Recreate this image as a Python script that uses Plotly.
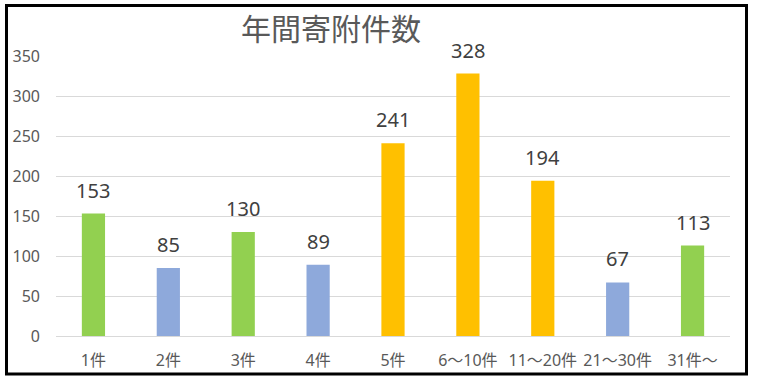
import plotly.graph_objects as go

categories = ["1件", "2件", "3件", "4件", "5件", "6～10件", "11～20件", "21～30件", "31件～"]
values = [153, 85, 130, 89, 241, 328, 194, 67, 113]
bar_colors = ["#92D050", "#8EA9DB", "#92D050", "#8EA9DB", "#FFC000", "#FFC000", "#FFC000", "#8EA9DB", "#92D050"]
y_ticks = [0, 50, 100, 150, 200, 250, 300, 350]
title_text = "年間寄附件数"

FONT = "Noto Sans, Noto Sans CJK JP"

W, H = 757, 380
ml, mt = 56, 56
pw, ph = 674, 280
mr = W - ml - pw
mb = H - mt - ph

fig = go.Figure(
    go.Bar(
        x=categories,
        y=values,
        marker=dict(color=bar_colors, line=dict(width=0)),
        width=0.31,
        hoverinfo="skip",
    )
)

for c, v in zip(categories, values):
    fig.add_annotation(
        x=c, y=v, text=str(v), showarrow=False,
        yanchor="bottom", yshift=8,
        font=dict(family=FONT, size=20, color="#404040"),
    )

def px(x):
    return (x - ml) / pw

def py(y):
    return (H - mb - y) / ph

fig.add_shape(
    type="rect", xref="paper", yref="paper",
    x0=px(6.5), x1=px(746.5), y0=py(374), y1=py(5.5),
    line=dict(color="#000000", width=3), fillcolor="rgba(0,0,0,0)",
    layer="above",
)

fig.add_annotation(
    xref="paper", yref="paper", x=px(331), y=py(29),
    text=title_text, showarrow=False, xanchor="center", yanchor="middle",
    font=dict(family=FONT, size=30, color="#595959"),
)

fig.update_layout(
    width=W, height=H,
    margin=dict(l=ml, r=mr, t=mt, b=mb, pad=0, autoexpand=False),
    paper_bgcolor="white", plot_bgcolor="white",
    showlegend=False,
    font=dict(family=FONT, color="#595959"),
    xaxis=dict(
        showgrid=False, showline=False, zeroline=False, automargin=False,
        tickfont=dict(family=FONT, size=16, color="#595959"),
        ticks="", ticklabelstandoff=13,
    ),
    yaxis=dict(
        range=[0, 350], tickvals=y_ticks, automargin=False,
        showgrid=True, gridcolor="#D9D9D9", gridwidth=1,
        zeroline=True, zerolinecolor="#D9D9D9", zerolinewidth=1,
        showline=False, ticks="",
        tickfont=dict(family=FONT, size=16, color="#595959"),
        ticklabelstandoff=15,
    ),
)

fig.write_html(
    "out.html",
    config={"displayModeBar": False},
    post_script="document.body.style.margin='0';document.body.style.overflow='hidden';",
)
